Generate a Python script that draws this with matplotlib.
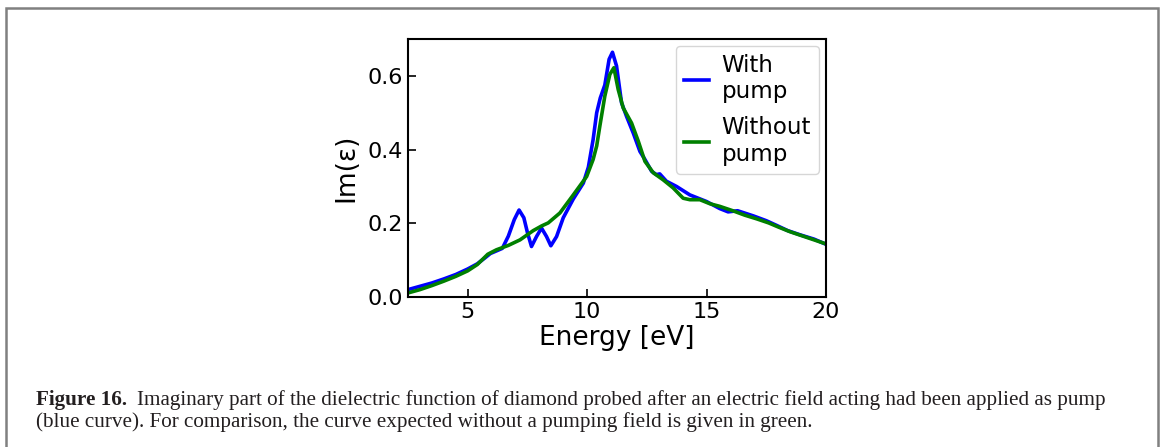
import matplotlib
matplotlib.use("Agg")
import matplotlib.pyplot as plt
from matplotlib.patches import Rectangle

# ------------------------------------------------------------
# Data (energy in eV, Im(eps))
# ------------------------------------------------------------
energy_pump = [2.5, 3.0, 3.5, 4.0, 4.5, 5.0, 5.4, 5.7, 5.95, 6.2, 6.45, 6.7,
               6.95, 7.15, 7.35, 7.5, 7.67, 7.88, 8.09, 8.3, 8.48, 8.72, 9.0,
               9.42, 9.84, 10.05, 10.25, 10.4, 10.55, 10.74, 10.92, 11.06,
               11.23, 11.44, 11.65, 11.93, 12.21, 12.42, 12.7, 12.9, 13.04,
               13.32, 13.74, 14.3, 15.0, 15.55, 15.9, 16.3, 16.96, 17.5,
               17.94, 18.4, 18.9, 19.5, 20.0]
im_pump = [0.020, 0.029, 0.038, 0.049, 0.061, 0.076, 0.090, 0.105, 0.118,
           0.125, 0.132, 0.165, 0.210, 0.236, 0.215, 0.175, 0.137, 0.164,
           0.187, 0.164, 0.139, 0.164, 0.215, 0.266, 0.309, 0.352, 0.427,
           0.500, 0.540, 0.575, 0.645, 0.664, 0.627, 0.527, 0.490, 0.445,
           0.395, 0.373, 0.341, 0.332, 0.334, 0.314, 0.300, 0.277, 0.259,
           0.240, 0.231, 0.234, 0.220, 0.207, 0.194, 0.180, 0.169, 0.157,
           0.143]

energy_nopump = [2.5, 3.0, 3.5, 4.0, 4.5, 5.0, 5.4, 5.84, 6.2, 6.7, 7.19,
                 7.74, 8.1, 8.37, 8.86, 9.42, 9.98, 10.25, 10.4, 10.53, 10.74,
                 10.95, 11.12, 11.3, 11.51, 11.86, 12.14, 12.42, 12.77, 13.18,
                 13.6, 14.02, 14.3, 14.72, 15.14, 15.55, 16.1, 16.6, 17.1,
                 17.6, 18.0, 18.5, 19.0, 19.5, 20.0]
im_nopump = [0.011, 0.020, 0.031, 0.043, 0.056, 0.071, 0.088, 0.116, 0.128,
             0.140, 0.155, 0.180, 0.193, 0.201, 0.228, 0.277, 0.327, 0.373,
             0.410, 0.463, 0.545, 0.604, 0.622, 0.563, 0.513, 0.472, 0.423,
             0.368, 0.337, 0.318, 0.296, 0.268, 0.264, 0.264, 0.253, 0.246,
             0.234, 0.222, 0.212, 0.201, 0.190, 0.177, 0.166, 0.155, 0.144]

caption_bold = "Figure 16."
caption_line1 = ("Imaginary part of the dielectric function of diamond probed after "
                 "an electric field acting had been applied as pump")
caption_line2 = ("(blue curve). For comparison, the curve expected without a pumping "
                 "field is given in green.")

W, H = 1165, 447
fig = plt.figure(figsize=(W / 100, H / 100), dpi=100)

# outer frame of the figure box (bottom edge runs off the image)
fig.patches.append(Rectangle((6 / W, -0.1), 1152 / W, 1.1 - 8 / H,
                             transform=fig.transFigure, fill=False,
                             edgecolor="#808080", linewidth=1.8))

ax = fig.add_axes([408 / W, 1 - 297 / H, 418 / W, 258 / H])
ax.plot(energy_pump, im_pump, color="blue", lw=2.6, label="With\npump",
        solid_joinstyle="round")
ax.plot(energy_nopump, im_nopump, color="green", lw=2.6, label="Without\npump",
        solid_joinstyle="round")
ax.set_xlim(2.5, 20)
ax.set_ylim(0, 0.7)
ax.set_xticks([5, 10, 15, 20])
ax.set_yticks([0.0, 0.2, 0.4, 0.6])
ax.tick_params(direction="in", labelsize=16, length=6, width=1.2)
for s in ax.spines.values():
    s.set_linewidth(1.5)
ax.set_xlabel("Energy [eV]", fontsize=19, labelpad=2)
ax.set_ylabel("Im(ε)", fontsize=19, labelpad=6)
ax.legend(loc="upper right", fontsize=16.5, handlelength=1.1,
          handletextpad=0.55, borderpad=0.35, labelspacing=0.55,
          borderaxespad=0.3)

# caption
serif = "Liberation Serif"
fs = 15.2
ink = "#231f20"
t = fig.text(36 / W, 1 - 405 / H, caption_bold, fontsize=fs, family=serif,
             fontweight="bold", va="baseline", color=ink)
fig.canvas.draw()
bb = t.get_window_extent()
fig.text((bb.x1 + 10) / W, 1 - 405 / H, caption_line1, fontsize=fs,
         family=serif, va="baseline", color=ink)
fig.text(36 / W, 1 - 427 / H, caption_line2, fontsize=fs, family=serif,
         va="baseline", color=ink)

fig.savefig("out.png", dpi=100)
